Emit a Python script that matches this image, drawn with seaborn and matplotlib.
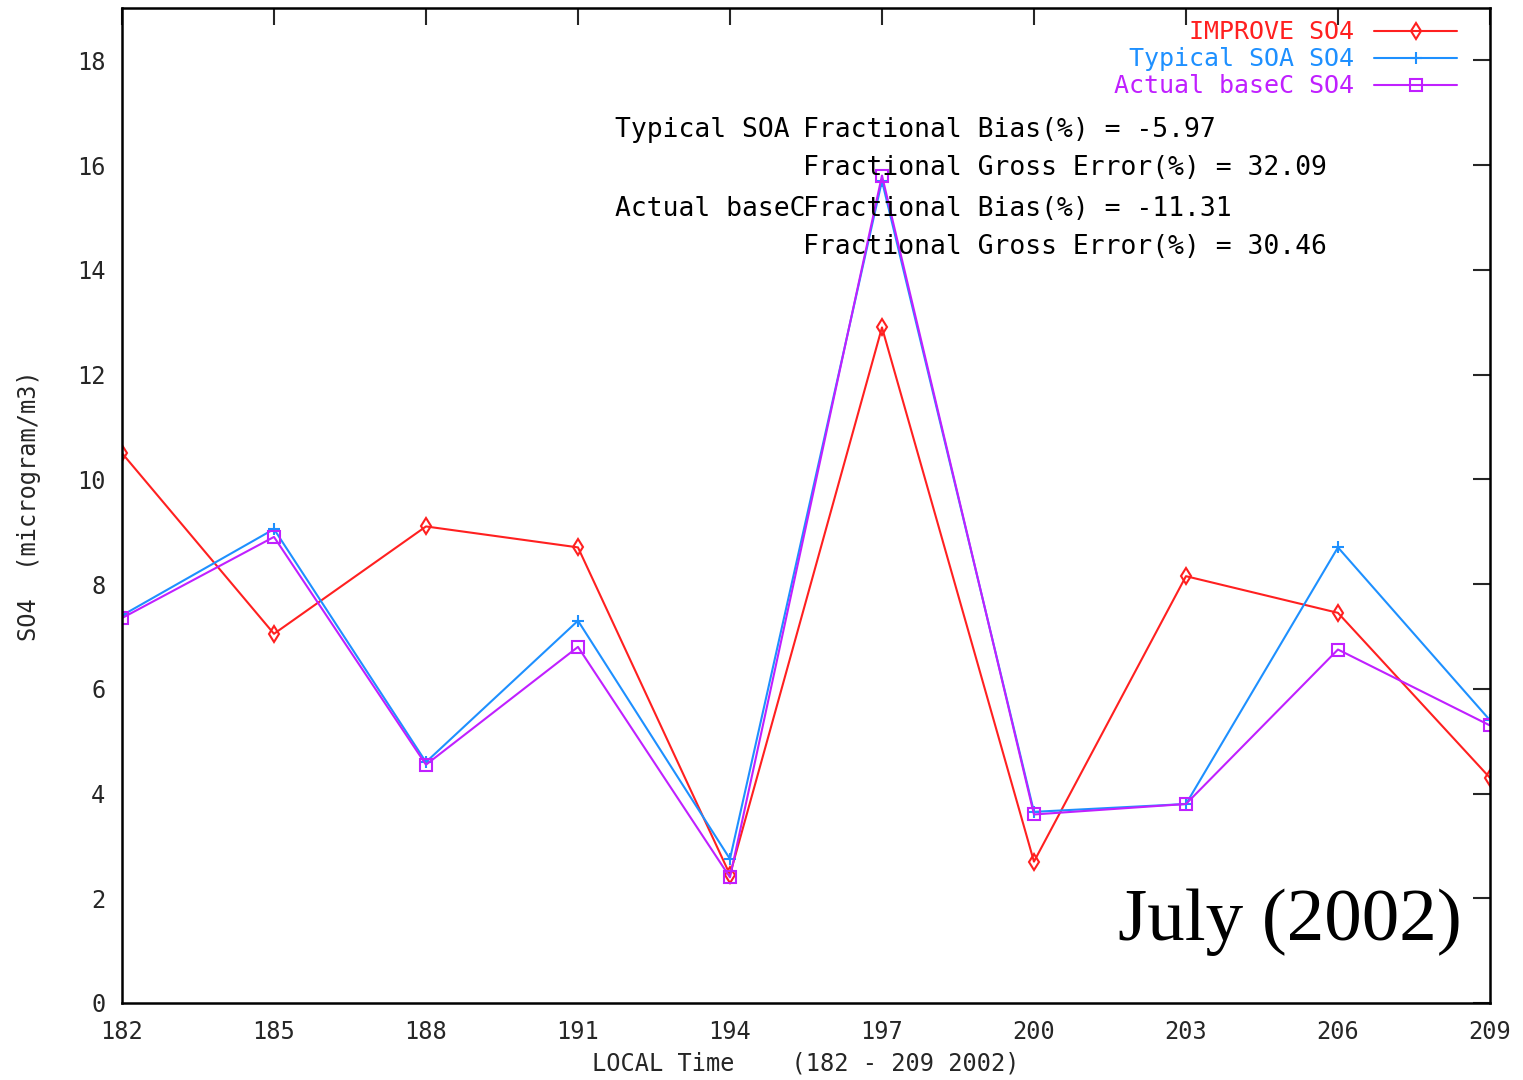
import matplotlib
matplotlib.use("Agg")
import matplotlib.pyplot as plt
import seaborn as sns
import pandas as pd

days = [182, 185, 188, 191, 194, 197, 200, 203, 206, 209]
improve = [10.5, 7.05, 9.1, 8.7, 2.45, 12.9, 2.7, 8.15, 7.45, 4.3]
typical = [7.4, 9.05, 4.6, 7.3, 2.75, 15.7, 3.65, 3.8, 8.7, 5.4]
actual = [7.35, 8.9, 4.55, 6.8, 2.4, 15.8, 3.6, 3.8, 6.75, 5.3]
labels = ["IMPROVE SO4", "Typical SOA SO4", "Actual baseC SO4"]
colors = ["#ff2020", "#1e90ff", "#c020ff"]
markers = ["d", "+", "s"]

sns.set_style("white")
plt.rcParams['font.family'] = ['DejaVu Sans Mono', 'DejaVu Sans']

fig = plt.figure(figsize=(15.23, 10.8), dpi=100)
ax = fig.add_axes([0.0801, 0.0713, 0.8982, 0.9213])

for vals, lab, col, mk in zip([improve, typical, actual], labels, colors, markers):
    df = pd.DataFrame({"day": days, "val": vals})
    kw = dict(markersize=9 if mk == "+" else 8, markeredgewidth=1.5,
              markeredgecolor=col)
    if mk in ("d", "s"):
        kw["markerfacecolor"] = "none"
    sns.lineplot(data=df, x="day", y="val", ax=ax, color=col, marker=mk,
                 linewidth=1.5, label=lab, **kw)

ax.set_xlim(182, 209)
ax.set_ylim(0, 19)
ax.set_xticks(days)
ax.set_yticks(range(0, 19, 2))
ax.tick_params(direction="in", length=12, width=1.5, top=True, right=True,
               labelsize=17, pad=12)
for s in ax.spines.values():
    s.set_linewidth(1.8)
    s.set_color("black")

ax.set_xlabel("LOCAL Time    (182 - 209 2002)", fontsize=17, labelpad=6)
ax.set_ylabel("SO4  (microgram/m3)", fontsize=17, labelpad=26)

leg = ax.legend(loc="upper right", markerfirst=False, frameon=False,
                fontsize=18, handlelength=3.3, labelspacing=0.12,
                borderaxespad=0.1, handletextpad=0.8,
                bbox_to_anchor=(0.985, 1.0))
for txt, col in zip(leg.get_texts(), colors):
    txt.set_color(col)

stat_kw = dict(transform=fig.transFigure, fontsize=19, color="black", va="center")
fig.text(615 / 1523, 1 - 130 / 1080, "Typical SOA", **stat_kw)
fig.text(803 / 1523, 1 - 130 / 1080, "Fractional Bias(%) = -5.97", **stat_kw)
fig.text(803 / 1523, 1 - 168 / 1080, "Fractional Gross Error(%) = 32.09", **stat_kw)
fig.text(615 / 1523, 1 - 209 / 1080, "Actual baseC", **stat_kw)
fig.text(803 / 1523, 1 - 209 / 1080, "Fractional Bias(%) = -11.31", **stat_kw)
fig.text(803 / 1523, 1 - 247 / 1080, "Fractional Gross Error(%) = 30.46", **stat_kw)

fig.text(1462 / 1523, 1 - 922 / 1080, "July (2002)", family="Liberation Serif",
         fontsize=54, ha="right", va="center", color="black")

fig.savefig("out.png", dpi=100)
